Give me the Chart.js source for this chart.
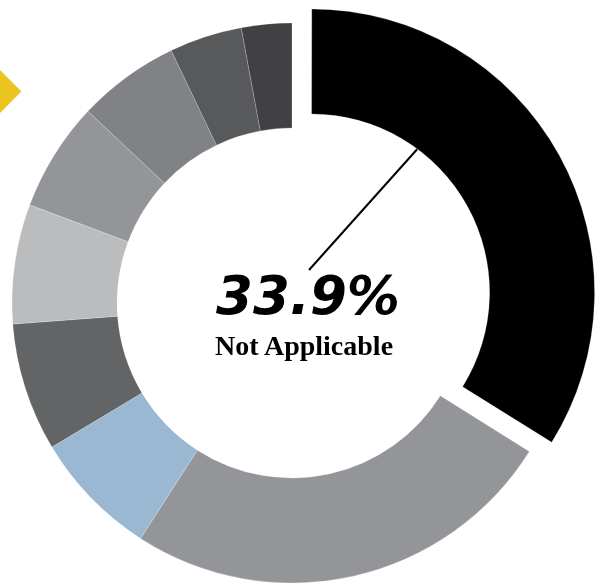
<!DOCTYPE html>
<html>
<head>
<meta charset="utf-8">
<script src="https://cdn.jsdelivr.net/npm/chart.js@4"></script>
<style>
    body { margin: 0; background: #fff; }
    #wrap { position: relative; width: 600px; height: 585px; overflow: hidden; }
    #arrow {
        position: absolute; left: -16px; top: 76px; width: 31px; height: 31px;
        background: #ebc41f; transform: rotate(45deg);
    }
    .center-text { position: absolute; transform: translateX(-50%); white-space: nowrap; color: #000; line-height: 1; }
    #pct { left: 308px; top: 265px; font: italic bold 53px "DejaVu Sans", sans-serif; }
    #lbl { left: 304px; top: 330px; font: bold 28px "Liberation Serif", serif; }
</style>
</head>
<body>
<div id="wrap">
    <canvas id="donutChart" width="600" height="585"></canvas>
    <div id="arrow"></div>
    <div class="center-text" id="pct">33.9%</div>
    <div class="center-text" id="lbl">Not Applicable</div>
</div>
<script>
// Данные (по часовой стрелке от верха)
const labels = ['Not Applicable', 'Category 2', 'Category 3', 'Category 4', 'Category 5',
                'Category 6', 'Category 7', 'Category 8', 'Category 9'];
const values = [33.9, 25.2, 7.3, 7.4, 6.9, 6.3, 5.9, 4.2, 2.9];
const colors = ['#000000', '#939598', '#9bb8d3', '#636466', '#bbbcbe',
                '#939598', '#808285', '#58595b', '#414042'];
const offsets = [88, 0, 0, 0, 0, 0, 0, 0, 0]; // только первый сегмент выдвинут

// Линия-выноска от выдвинутого сегмента к подписи
const leaderLine = {
    id: 'leaderLine',
    afterDatasetsDraw(chart) {
        const arc = chart.getDatasetMeta(0).data[0];
        const ctx = chart.ctx;
        const half = (arc.startAngle + arc.endAngle) / 2;
        const shift = offsets[0] / 4;
        const cx = arc.x + Math.cos(half) * shift;
        const cy = arc.y + Math.sin(half) * shift;
        const a = -Math.PI / 2 + 36.5 * Math.PI / 180;
        const r = arc.innerRadius + 3;
        ctx.save();
        ctx.strokeStyle = '#000';
        ctx.lineWidth = 2;
        ctx.beginPath();
        ctx.moveTo(cx + Math.cos(a) * r, cy + Math.sin(a) * r);
        ctx.lineTo(arc.x + 17, arc.y - 33);
        ctx.stroke();
        ctx.restore();
    }
};

const ctx = document.getElementById('donutChart').getContext('2d');
new Chart(ctx, {
    type: 'doughnut',
    data: {
        labels: labels,
        datasets: [{
            data: values,
            backgroundColor: colors,
            borderColor: 'rgba(255,255,255,0.35)',
            borderWidth: 0.6,
            offset: offsets,
            hoverOffset: 0,
            clip: false
        }]
    },
    options: {
        responsive: false,
        animation: false,
        radius: 280,
        cutout: '62.5%',
        layout: { padding: { left: 0, right: 16, top: 21, bottom: 0 } },
        plugins: {
            legend: { display: false },
            tooltip: { enabled: false }
        },
        events: []
    },
    plugins: [leaderLine]
});
</script>
</body>
</html>
